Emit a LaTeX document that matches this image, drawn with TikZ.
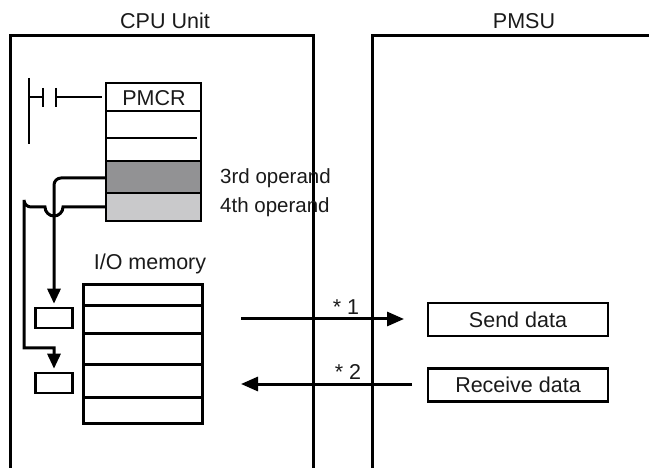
\documentclass[tikz,border=0pt]{standalone}
\usepackage{fontspec}
\setmainfont{Liberation Sans}
\usetikzlibrary{arrows.meta}
\definecolor{darkop}{HTML}{929294}
\definecolor{lightop}{HTML}{C9C9CB}
\definecolor{txt}{HTML}{1A1A1A}
\tikzset{
  lbl/.style={font=\fontsize{21.5}{24}\selectfont, text=txt, inner sep=0pt},
  oplbl/.style={font=\fontsize{20.5}{23}\selectfont, text=txt, inner sep=0pt, anchor=west},
  frame/.style={line width=3pt, line cap=rect},
  cell/.style={draw, line width=2.6pt, minimum width=119pt, inner sep=0pt, anchor=north west},
  smallbox/.style={draw, line width=2.6pt, minimum width=37pt, minimum height=20pt, inner sep=0pt},
  databox/.style={draw, line width=2.6pt, minimum width=180pt, minimum height=33pt, inner sep=0pt, font=\fontsize{21.5}{24}\selectfont, text=txt},
  opcell/.style={draw, line width=1.6pt, minimum width=95pt, inner sep=0pt, anchor=north west},
  conn/.style={line width=3pt},
  tip/.style={-{Triangle[length=15pt,width=13pt]}},
  htip/.style={line width=3pt, -{Triangle[length=17pt,width=14pt]}},
  contact/.style={line width=2.6pt}
}
\begin{document}
\begin{tikzpicture}[x=1pt,y=-1pt]
\useasboundingbox (0,0) rectangle (649,468);
% titles
\node[lbl] (cpulbl) at (165,21) {CPU Unit};
\node[lbl] (pmsulbl) at (524,21) {PMSU};
% frames
\draw[frame] (10,470) -- (10,36) -- (313,36) -- (313,470);
\draw[frame] (372,470) -- (372,36) -- (652,36);
% PMCR block
\node[opcell, minimum height=78pt] (pmcrtop) at (105,82) {};
\node[opcell, minimum height=32pt, fill=darkop] (op3) at (105,160) {};
\node[opcell, minimum height=28pt, fill=lightop] (op4) at (105,192) {};
\node[lbl] (pmcr) at (154,98) {PMCR};
\draw[line width=1.6pt] (107,111) -- (201,111);
\draw[line width=1.6pt] (107,138) -- (197,138);
\node[oplbl] (op3lbl) at (220,178) {3rd operand};
\node[oplbl] (op4lbl) at (220,207) {4th operand};
% contact
\coordinate (railtop) at (29,78);
\coordinate (railbot) at (29,144);
\draw[contact] (railtop) -- (railbot);
\draw[contact] (29,97) -- (43,97);
\draw[contact] (43,88) -- (43,107);
\draw[contact] (56,88) -- (56,107);
\draw[contact] (56,97) -- ([xshift=-3pt]pmcrtop.west |- 0,97);
% I/O memory
\node[lbl] (iolbl) at (150,264) {I/O memory};
\node[cell, minimum height=21pt] (io1) at (82,283) {};
\node[cell, minimum height=28pt] (io2) at (82,304) {};
\node[cell, minimum height=31pt] (io3) at (82,332) {};
\node[cell, minimum height=33pt] (io4) at (82,363) {};
\node[cell, minimum height=26pt] (io5) at (82,396) {};
% small boxes
\node[smallbox] (sb1) at (54,318) {};
\node[smallbox] (sb2) at (54,383) {};
% connectors
\draw[conn, tip, rounded corners=7pt] (op3.west |- 0,178) -| ([yshift=3pt]sb1.north);
\coordinate (bend) at (24,348);
\draw[conn, tip] (op4.west |- 0,207) -- (63,207) arc[start angle=0, end angle=180, radius=9]
  -- (31,207) arc[start angle=90, end angle=180, radius=7] -- (bend) -- (sb2.north |- bend) -- ([yshift=3pt]sb2.north);
% data boxes
\node[databox] (send) at (518,319.5) {Send data};
\node[databox] (recv) at (518,385) {Receive data};
% transfer arrows
\coordinate (sendstart) at (241,319);
\coordinate (sendend) at (404,319);
\coordinate (recvstart) at (412,384);
\coordinate (recvend) at (241,384);
\draw[htip] (sendstart) -- (sendend);
\draw[htip] (recvstart) -- (recvend);
\node[lbl] (n1) at (346,307) {* 1};
\node[lbl] (n2) at (348,372) {* 2};
\end{tikzpicture}
\end{document}
